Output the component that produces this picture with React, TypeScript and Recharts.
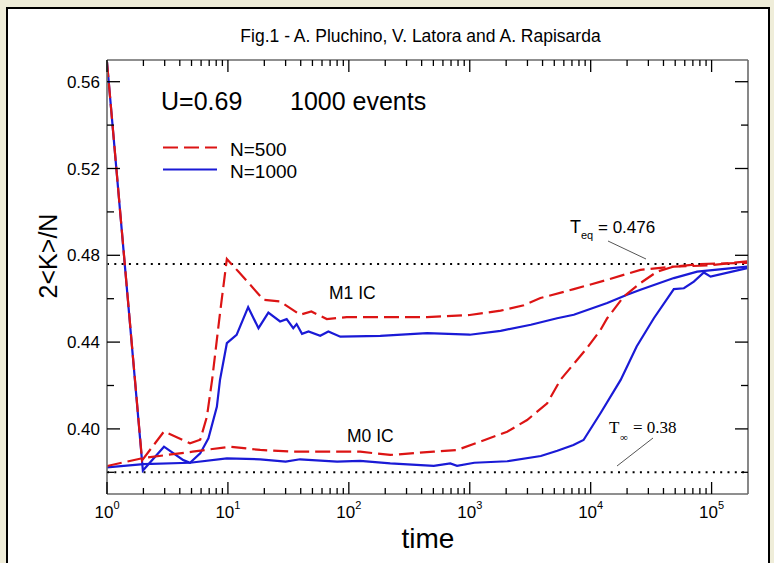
import React from "react";
import { ComposedChart, Line, XAxis, YAxis, ReferenceLine } from "recharts";

/* ---- data (t = time, v = 2<K>/N) ---- */

const decades = [1, 10, 100, 1000, 10000, 100000];
const minorSteps = [2, 3, 4, 5, 6, 7, 8, 9];
const yTicks = [0.38, 0.4, 0.42, 0.44, 0.46, 0.48, 0.5, 0.52, 0.54, 0.56];
const yLabelled = [0.4, 0.44, 0.48, 0.52, 0.56];

const T_EQ = 0.476;
const T_INF = 0.38;

// N=500, M1 initial condition (red dashed)
const red500M1 = [
  { t: 1, v: 0.569 }, { t: 1.95, v: 0.3855 }, { t: 2.96, v: 0.3988 }, { t: 4.86, v: 0.3934 },
  { t: 5.9, v: 0.395 }, { t: 6.7, v: 0.4056 }, { t: 7.4, v: 0.4226 }, { t: 8.6, v: 0.4533 },
  { t: 9.8, v: 0.4783 }, { t: 12.2, v: 0.4725 }, { t: 15.3, v: 0.4664 }, { t: 19.7, v: 0.4595 },
  { t: 27, v: 0.4587 }, { t: 39.5, v: 0.4526 }, { t: 49, v: 0.4541 }, { t: 65.7, v: 0.4506 },
  { t: 96, v: 0.4515 }, { t: 444, v: 0.4515 }, { t: 1000, v: 0.4525 }, { t: 1800, v: 0.4545 },
  { t: 2800, v: 0.457 }, { t: 3840, v: 0.4603 }, { t: 7250, v: 0.4644 }, { t: 13700, v: 0.4687 },
  { t: 25800, v: 0.4733 }, { t: 48700, v: 0.4748 }, { t: 92100, v: 0.4753 }, { t: 197000, v: 0.4772 },
];

// N=500, M0 initial condition (red dashed)
const red500M0 = [
  { t: 1, v: 0.3829 }, { t: 2, v: 0.3866 }, { t: 5.1, v: 0.3895 }, { t: 10.4, v: 0.3918 },
  { t: 18.5, v: 0.3903 }, { t: 34.6, v: 0.3895 }, { t: 124, v: 0.3895 }, { t: 220, v: 0.388 },
  { t: 504, v: 0.3895 }, { t: 785, v: 0.3903 }, { t: 1220, v: 0.3941 }, { t: 2040, v: 0.3987 },
  { t: 2980, v: 0.4041 }, { t: 4370, v: 0.4118 }, { t: 5620, v: 0.4226 }, { t: 9060, v: 0.4364 },
  { t: 12050, v: 0.4456 }, { t: 13700, v: 0.451 }, { t: 18800, v: 0.461 }, { t: 25800, v: 0.4672 },
  { t: 35500, v: 0.4725 }, { t: 48700, v: 0.4748 }, { t: 80000, v: 0.476 }, { t: 197000, v: 0.4765 },
];

// N=1000, M1 initial condition (blue solid)
const blue1000M1 = [
  { t: 1, v: 0.569 }, { t: 1.98, v: 0.3808 }, { t: 2.96, v: 0.3918 }, { t: 4.28, v: 0.3856 },
  { t: 4.86, v: 0.3844 }, { t: 5.9, v: 0.3887 }, { t: 6.9, v: 0.3957 }, { t: 8.1, v: 0.4102 },
  { t: 8.6, v: 0.4226 }, { t: 9.8, v: 0.4395 }, { t: 11.8, v: 0.4433 }, { t: 14.7, v: 0.4561 },
  { t: 17.9, v: 0.4464 }, { t: 21.6, v: 0.4536 }, { t: 27, v: 0.4495 }, { t: 30.6, v: 0.4506 },
  { t: 34.7, v: 0.4464 }, { t: 37, v: 0.4483 }, { t: 41, v: 0.4438 }, { t: 46.4, v: 0.4449 },
  { t: 58, v: 0.4429 }, { t: 67.7, v: 0.4449 }, { t: 85, v: 0.4425 }, { t: 182, v: 0.4429 },
  { t: 444, v: 0.4441 }, { t: 1000, v: 0.4434 }, { t: 1800, v: 0.4452 }, { t: 3200, v: 0.448 },
  { t: 5280, v: 0.451 }, { t: 7250, v: 0.4526 }, { t: 13700, v: 0.458 }, { t: 20000, v: 0.4618 },
  { t: 25800, v: 0.4641 }, { t: 48700, v: 0.4695 }, { t: 76000, v: 0.4725 }, { t: 197000, v: 0.4748 },
];

// N=1000, M0 initial condition (blue solid)
const blue1000M0 = [
  { t: 1, v: 0.3823 }, { t: 2, v: 0.3838 }, { t: 4.86, v: 0.3844 }, { t: 9.8, v: 0.3864 },
  { t: 18.5, v: 0.386 }, { t: 30, v: 0.3849 }, { t: 39.5, v: 0.386 }, { t: 80, v: 0.3849 },
  { t: 124, v: 0.3853 }, { t: 220, v: 0.3841 }, { t: 504, v: 0.383 }, { t: 690, v: 0.3841 },
  { t: 785, v: 0.383 }, { t: 1090, v: 0.3844 }, { t: 2040, v: 0.3851 }, { t: 3870, v: 0.3875 },
  { t: 5300, v: 0.3899 }, { t: 7200, v: 0.3926 }, { t: 8730, v: 0.3949 }, { t: 12050, v: 0.4072 },
  { t: 17700, v: 0.4226 }, { t: 24000, v: 0.438 }, { t: 33300, v: 0.451 }, { t: 48700, v: 0.4644 },
  { t: 59000, v: 0.4648 }, { t: 71300, v: 0.4679 }, { t: 86300, v: 0.4721 }, { t: 98100, v: 0.4702 },
  { t: 197000, v: 0.4741 },
];

/* ---- styling ---- */

const RED = "#dc1414";
const BLUE = "#1a1ad6";
const AXIS = "#6a6a6a";
const SANS = "'Liberation Sans', Arial, Helvetica, sans-serif";
const SERIF = "'Liberation Serif', 'Times New Roman', serif";

const xTicks = decades.flatMap(d => (d === 100000 ? [d] : [d, ...minorSteps.map(k => k * d)]));
const isDecade = (v: number) => decades.includes(v);
const isYLabelled = (v: number) => yLabelled.some(l => Math.abs(l - v) < 1e-6);

/* ---- inward ticks ---- */

const BottomTick = (p: any) => {
  const { x, y, payload } = p;
  const major = isDecade(payload.value);
  return (
    <g>
      <line x1={x} x2={x} y1={y} y2={y - (major ? 12 : 6)} stroke="#000" strokeWidth={1.3} />
      {major && (
        <text x={x} y={y + 24} textAnchor="middle" fontSize={17} fontFamily={SANS} fill="#000">
          10<tspan dy={-9} fontSize={11}>{Math.round(Math.log10(payload.value))}</tspan>
        </text>
      )}
    </g>
  );
};

const TopTick = (p: any) => {
  const { x, y, payload } = p;
  const major = isDecade(payload.value);
  return <line x1={x} x2={x} y1={y} y2={y + (major ? 12 : 6)} stroke="#000" strokeWidth={1.3} />;
};

const LeftTick = (p: any) => {
  const { x, y, payload } = p;
  const major = isYLabelled(payload.value);
  return (
    <g>
      <line x1={x} x2={x + (major ? 13 : 7)} y1={y} y2={y} stroke="#000" strokeWidth={1.3} />
      {major && (
        <text x={x - 7} y={y + 6} textAnchor="end" fontSize={17} fontFamily={SANS} fill="#000">
          {payload.value.toFixed(2)}
        </text>
      )}
    </g>
  );
};

const RightTick = (p: any) => {
  const { x, y, payload } = p;
  const major = isYLabelled(payload.value);
  return <line x1={x} x2={x - (major ? 13 : 7)} y1={y} y2={y} stroke="#000" strokeWidth={1.3} />;
};

/* ---- labels and annotations drawn over the chart ---- */

const Overlay = () => (
  <svg width={774} height={563} style={{ position: "absolute", left: 0, top: 0, pointerEvents: "none" }}>
    <g fontFamily={SANS} fill="#000">
      <text x={420.5} y={42} textAnchor="middle" fontSize={17.5}>
        Fig.1 - A. Pluchino, V. Latora and A. Rapisarda
      </text>
      <text x={161} y={110} fontSize={25}>U=0.69</text>
      <text x={290} y={110} fontSize={25}>1000 events</text>

      <line x1={163} x2={217} y1={147.5} y2={147.5} stroke={RED} strokeWidth={2.2} strokeDasharray="15 6" />
      <text x={230} y={156} fontSize={19}>N=500</text>
      <line x1={163} x2={217} y1={169.5} y2={169.5} stroke={BLUE} strokeWidth={2.2} />
      <text x={230} y={178} fontSize={19}>N=1000</text>

      <text x={329} y={299} fontSize={17.5}>M1 IC</text>
      <text x={347} y={442} fontSize={17.5}>M0 IC</text>

      <text x={570} y={233} fontSize={18}>T</text>
      <text x={581} y={239} fontSize={11}>eq</text>
      <text x={598} y={233} fontSize={17}>= 0.476</text>
      <line x1={608} y1={241} x2={646} y2={259} stroke="#555" strokeWidth={1} />

      <text x={57} y={256} fontSize={25} textAnchor="middle" transform="rotate(-90 57 256)">
        2&lt;K&gt;/N
      </text>
      <text x={428} y={548} fontSize={28} textAnchor="middle">time</text>
    </g>
    <g fontFamily={SERIF} fill="#000">
      <text x={609} y={433} fontSize={17}>T</text>
      <text x={620} y={441} fontSize={11}>∞</text>
      <text x={633} y={433} fontSize={17}>= 0.38</text>
      <line x1={653} y1={438} x2={617} y2={466} stroke="#555" strokeWidth={1} />
    </g>
  </svg>
);

export default function App() {
  return (
    <div style={{ position: "relative", width: 774, height: 563, background: "#efedd9", overflow: "hidden" }}>
      <style>{`body{margin:0}`}</style>
      <div
        style={{
          position: "absolute", left: 6, top: 7, width: 760, height: 570,
          border: "2px solid #000", background: "#fff",
        }}
      />
      <div style={{ position: "absolute", left: 0, top: 0 }}>
        <ComposedChart width={774} height={563} margin={{ top: 59, right: 25, bottom: 39, left: 57 }}>
          <XAxis
            xAxisId="b" type="number" dataKey="t" scale="log" domain={[1, 200000]} allowDataOverflow
            ticks={xTicks} interval={0} tickSize={0} tickMargin={0} tickLine={false}
            tick={BottomTick} axisLine={{ stroke: AXIS, strokeWidth: 1.6 }} height={30}
          />
          <XAxis
            xAxisId="top" orientation="top" type="number" dataKey="t" scale="log" domain={[1, 200000]}
            allowDataOverflow ticks={xTicks} interval={0} tickSize={0} tickMargin={0} tickLine={false}
            tick={TopTick} axisLine={{ stroke: AXIS, strokeWidth: 1.6 }} height={1}
          />
          <YAxis
            yAxisId="l" type="number" domain={[0.37, 0.57]} allowDataOverflow ticks={yTicks} interval={0}
            tickSize={0} tickMargin={0} tickLine={false} tick={LeftTick}
            axisLine={{ stroke: AXIS, strokeWidth: 1.6 }} width={50}
          />
          <YAxis
            yAxisId="r" orientation="right" type="number" domain={[0.37, 0.57]} allowDataOverflow
            ticks={yTicks} interval={0} tickSize={0} tickMargin={0} tickLine={false} tick={RightTick}
            axisLine={{ stroke: AXIS, strokeWidth: 1.6 }} width={1}
          />

          <ReferenceLine xAxisId="b" yAxisId="l" y={T_EQ} stroke="#000" strokeWidth={2} strokeDasharray="2 5.3" />
          <ReferenceLine xAxisId="b" yAxisId="l" y={T_INF} stroke="#000" strokeWidth={2} strokeDasharray="2 5.3" />

          <Line xAxisId="b" yAxisId="l" data={blue1000M0} dataKey="v" type="linear" dot={false}
            stroke={BLUE} strokeWidth={2.2} isAnimationActive={false} />
          <Line xAxisId="b" yAxisId="l" data={blue1000M1} dataKey="v" type="linear" dot={false}
            stroke={BLUE} strokeWidth={2.2} isAnimationActive={false} />
          <Line xAxisId="b" yAxisId="l" data={red500M0} dataKey="v" type="linear" dot={false}
            stroke={RED} strokeWidth={2.2} strokeDasharray="15 6" isAnimationActive={false} />
          <Line xAxisId="b" yAxisId="l" data={red500M1} dataKey="v" type="linear" dot={false}
            stroke={RED} strokeWidth={2.2} strokeDasharray="15 6" isAnimationActive={false} />
        </ComposedChart>
      </div>
      <Overlay />
    </div>
  );
}
